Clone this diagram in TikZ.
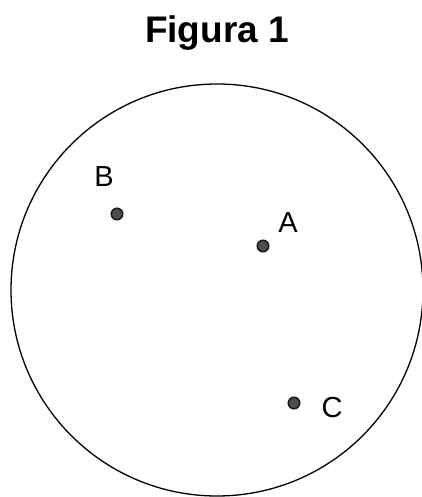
\documentclass[tikz,border=0pt]{standalone}
\usepackage{fontspec}
\setmainfont{Liberation Sans}
\usepackage{tikz}
\usetikzlibrary{calc}

\begin{document}
\begin{tikzpicture}[x=1pt, y=1pt, thick]
        \tikzset{
            punto/.style={circle, fill=black!70, draw=black!90, line width=1.5pt, inner sep=0pt, minimum size=11.5pt},
            etiqueta/.style={font=\fontsize{29}{29}\selectfont, inner sep=0pt}
        }
        % margini della figura
        \useasboundingbox (0, 0) rectangle (422, 497);
        
        % titolo
        \node[anchor=base, font=\bfseries\fontsize{37}{37}\selectfont, inner sep=0pt] (titolo) at (217, 454) {Figura 1};
        
        % il cerchio
        \draw[line width=1.3pt] (217, 207) circle (206);
        
        % i tre punti
        \node[punto] (A) at (263, 251) {};
        \node[punto] (B) at (117, 283) {};
        \node[punto] (C) at (294, 94) {};
        
        % le lettere
        \node[etiqueta] (lA) at (288, 274) {A};
        \node[etiqueta] (lB) at (104, 320) {B};
        \node[etiqueta] (lC) at (332, 89) {C};
    \end{tikzpicture}
\end{document}
